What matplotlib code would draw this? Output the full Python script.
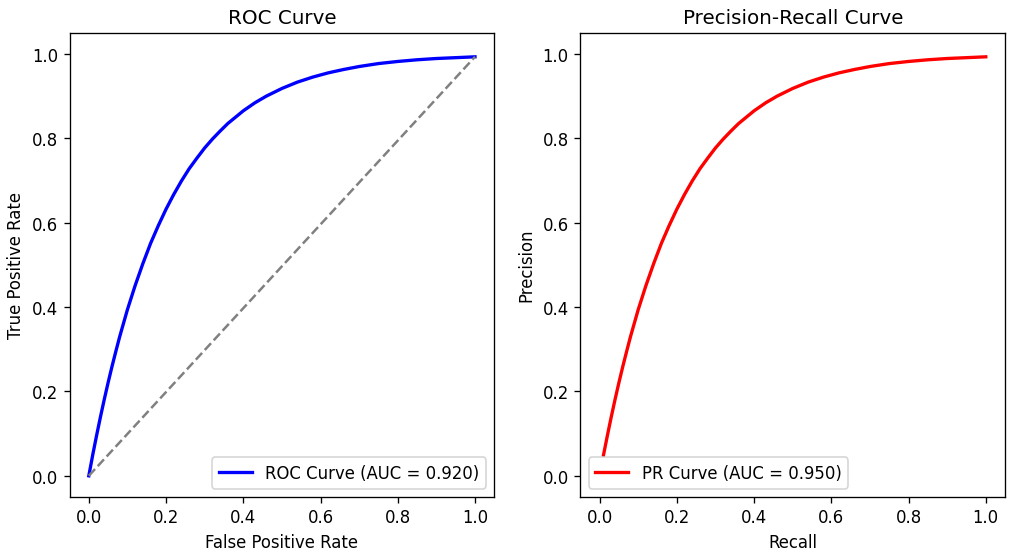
import matplotlib
matplotlib.use("Agg")
import matplotlib.pyplot as plt

# values
fpr = [0.0, 0.01, 0.02, 0.03, 0.04, 0.05, 0.06, 0.07, 0.08, 0.09, 0.1,
       0.12, 0.14, 0.16, 0.18, 0.2, 0.22, 0.24, 0.26, 0.28, 0.3, 0.32, 0.34,
       0.36, 0.38, 0.4, 0.43, 0.46, 0.5, 0.54, 0.58, 0.62, 0.66, 0.7, 0.75,
       0.8, 0.85, 0.9, 0.95, 1.0]
tpr = [0.0, 0.049, 0.095, 0.139, 0.181, 0.221, 0.259, 0.295, 0.330, 0.362, 0.394,
       0.451, 0.503, 0.551, 0.593, 0.632, 0.667, 0.699, 0.728, 0.753, 0.777, 0.798,
       0.817, 0.835, 0.850, 0.865, 0.884, 0.900, 0.918, 0.933, 0.945, 0.955, 0.963,
       0.970, 0.977, 0.982, 0.986, 0.989, 0.991, 0.993]
roc_auc = 0.920

recall = fpr[1:]
precision = tpr[1:]
pr_auc = 0.950

fig, (ax1, ax2) = plt.subplots(1, 2, figsize=(8.5, 4.63), dpi=119.2)

ax1.plot(fpr, tpr, color='blue', lw=2, label=f'ROC Curve (AUC = {roc_auc:.3f})')
ax1.plot([fpr[0], fpr[-1]], [tpr[0], tpr[-1]], color='gray', lw=1.5, linestyle='--')
ax1.set_xlabel('False Positive Rate')
ax1.set_ylabel('True Positive Rate')
ax1.set_title('ROC Curve')
ax1.set_ylim(-0.05, 1.05)
ax1.legend(loc='lower right')

ax2.plot(recall, precision, color='red', lw=2, label=f'PR Curve (AUC = {pr_auc:.3f})')
ax2.set_xlabel('Recall')
ax2.set_ylabel('Precision')
ax2.set_title('Precision-Recall Curve')
ax2.set_xlim(-0.05, 1.05)
ax2.set_ylim(-0.05, 1.05)
ax2.legend(loc='lower left')

fig.subplots_adjust(left=0.0686, right=0.992, top=0.939, bottom=0.098, wspace=0.2025)
plt.savefig('out.png')
